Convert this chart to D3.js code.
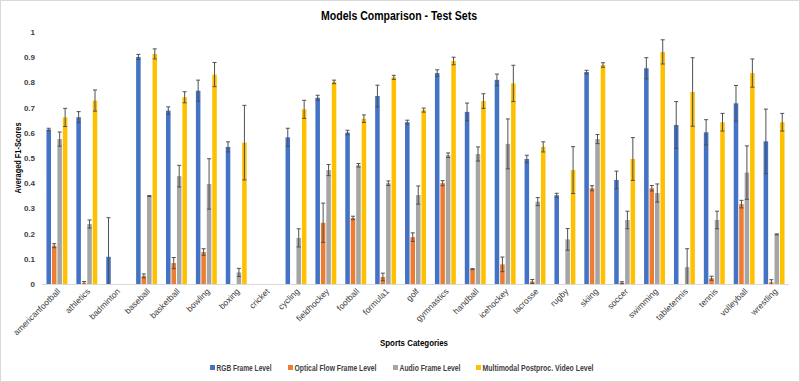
<!DOCTYPE html>
<html><head><meta charset="utf-8">
<script src="https://cdn.jsdelivr.net/npm/d3@7"></script>
<style>
body{margin:0;background:#fff;}
svg{display:block;font-family:"Liberation Sans",Arial,sans-serif;}
</style></head>
<body><svg id="c" width="800" height="382"></svg>
<script>
const categories = ["americanfootball","athletics","badminton","baseball","basketball","bowling","boxing","cricket","cycling","fieldhockey","football","formula1","golf","gymnastics","handball","icehockey","lacrosse","rugby","skiing","soccer","swimming","tabletennis","tennis","volleyball","wrestling"];
const seriesNames = ["RGB Frame Level","Optical Flow Frame Level","Audio Frame Level","Multimodal Postproc. Video Level"];
const rgb      = [0.613,0.662,0.108,0.901,0.688,0.767,0.544,0,0.582,0.739,0.601,0.746,0.642,0.837,0.683,0.810,0.496,0.352,0.841,0.413,0.856,0.631,0.602,0.717,0.566];
const rgbErr   = [0.005,0.022,0.155,0.010,0.015,0.042,0.020,0,0.036,0.010,0.009,0.043,0.008,0.013,0.035,0.023,0.015,0.008,0.007,0.035,0.042,0.093,0.050,0.071,0.128];
const flow     = [0.152,0.005,0,0.032,0.083,0.127,0,0,0,0.243,0.262,0.028,0.186,0.400,0.059,0.078,0.010,0,0.380,0.005,0.380,0,0.023,0.317,0.007];
const flowErr  = [0.008,0.005,0,0.008,0.022,0.013,0,0,0,0.078,0.007,0.015,0.017,0.010,0.002,0.029,0.008,0,0.010,0.004,0.011,0,0.008,0.015,0.010];
const audio    = [0.575,0.238,0,0.349,0.428,0.397,0.046,0,0.183,0.452,0.471,0.400,0.353,0.511,0.516,0.556,0.327,0.177,0.575,0.254,0.361,0.067,0.254,0.442,0.197];
const audioErr = [0.028,0.016,0,0.002,0.043,0.100,0.016,0,0.036,0.022,0.007,0.009,0.036,0.009,0.028,0.099,0.016,0.043,0.018,0.035,0.036,0.073,0.035,0.106,0.002];
const multi    = [0.661,0.728,0,0.913,0.741,0.831,0.561,0,0.693,0.802,0.656,0.820,0.690,0.885,0.726,0.796,0.544,0.452,0.869,0.496,0.921,0.762,0.642,0.837,0.642];
const multiErr = [0.036,0.042,0,0.020,0.022,0.048,0.148,0,0.036,0.007,0.015,0.008,0.008,0.015,0.029,0.072,0.020,0.093,0.009,0.085,0.048,0.136,0.035,0.056,0.035];
const yTicks   = [0,0.1,0.2,0.3,0.4,0.5,0.6,0.7,0.8,0.9,1];
const colors   = ["#4472C4","#ED7D31","#A5A5A5","#FFC000"];

const values = [rgb, flow, audio, multi];
const errs = [rgbErr, flowErr, audioErr, multiErr];

const svg = d3.select("#c");
svg.append("rect").attr("x",0.5).attr("y",0.5).attr("width",799).attr("height",381)
  .attr("fill","#fff").attr("stroke","#d9d9d9");

const x = d3.scaleBand().domain(categories).range([42,789]).paddingInner(0.3).paddingOuter(0.15);
const xi = d3.scaleBand().domain(d3.range(4)).range([0,x.bandwidth()]).paddingInner(0.17);
const y = d3.scaleLinear().domain([0,1]).range([284,32]);

// y axis labels
const yAxis = svg.append("g").attr("transform","translate(35,0)")
  .call(d3.axisLeft(y).tickValues(yTicks).tickSize(0).tickPadding(0).tickFormat(d=>d===0?"0":(d===1?"1":d3.format(".1f")(d))));
yAxis.select(".domain").remove();
yAxis.selectAll("text").attr("font-size",8).attr("font-weight","bold").attr("fill","#404040")
  .attr("font-family","'Liberation Sans',Arial,sans-serif");

// x axis line
svg.append("line").attr("x1",42).attr("x2",789).attr("y1",284.5).attr("y2",284.5).attr("stroke","#d9d9d9");

// bars
const data = [];
categories.forEach((c,i)=>{ for(let s=0;s<4;s++) data.push({c,s,v:values[s][i],e:errs[s][i]}); });
svg.append("g").selectAll("rect").data(data.filter(d=>d.v>0)).join("rect")
  .attr("x",d=>x(d.c)+xi(d.s)).attr("width",xi.bandwidth())
  .attr("y",d=>y(d.v)).attr("height",d=>y(0)-y(d.v))
  .attr("fill",d=>colors[d.s]);

// error bars
const eg = svg.append("g").attr("stroke","#505050").attr("stroke-width",1);
data.filter(d=>d.e>0).forEach(d=>{
  const cx = x(d.c)+xi(d.s)+xi.bandwidth()/2;
  const top = y(Math.min(1,d.v+d.e)), bot = y(Math.max(0,d.v-d.e));
  eg.append("line").attr("x1",cx).attr("x2",cx).attr("y1",top).attr("y2",bot);
  eg.append("line").attr("x1",cx-2).attr("x2",cx+2).attr("y1",top).attr("y2",top);
  if(d.v-d.e>0) eg.append("line").attr("x1",cx-2).attr("x2",cx+2).attr("y1",bot).attr("y2",bot);
});

// x labels
svg.append("g").selectAll("text").data(categories).join("text")
  .attr("transform",d=>`translate(${x(d)+x.bandwidth()/2+4},292) rotate(-45)`)
  .attr("text-anchor","end").attr("font-size",8.5).attr("fill","#404040")
  .text(d=>d);

// titles
svg.append("text").attr("x",399).attr("y",20).attr("text-anchor","middle")
  .attr("font-size",12).attr("font-weight","bold").attr("fill","#000")
  .attr("textLength",156).attr("lengthAdjust","spacingAndGlyphs").text("Models Comparison - Test Sets");
svg.append("text").attr("x",414).attr("y",346).attr("text-anchor","middle")
  .attr("font-size",9.5).attr("font-weight","bold").attr("fill","#000")
  .attr("textLength",68).attr("lengthAdjust","spacingAndGlyphs").text("Sports Categories");
svg.append("text").attr("transform","translate(21,158) rotate(-90)").attr("text-anchor","middle")
  .attr("font-size",9.5).attr("font-weight","bold").attr("fill","#000")
  .attr("textLength",71).attr("lengthAdjust","spacingAndGlyphs").text("Averaged F1-Scores");

// legend
const legX = [210,288,393,476];
const legW = [55,82,61,111];
const lg = svg.append("g");
seriesNames.forEach((n,i)=>{
  lg.append("rect").attr("x",legX[i]).attr("y",365).attr("width",5).attr("height",5).attr("fill",colors[i]);
  lg.append("text").attr("x",legX[i]+6.5).attr("y",370.5).attr("font-size",8.5).attr("font-weight","bold")
    .attr("fill","#404040").attr("textLength",legW[i]).attr("lengthAdjust","spacingAndGlyphs").text(n);
});
</script></body></html>
